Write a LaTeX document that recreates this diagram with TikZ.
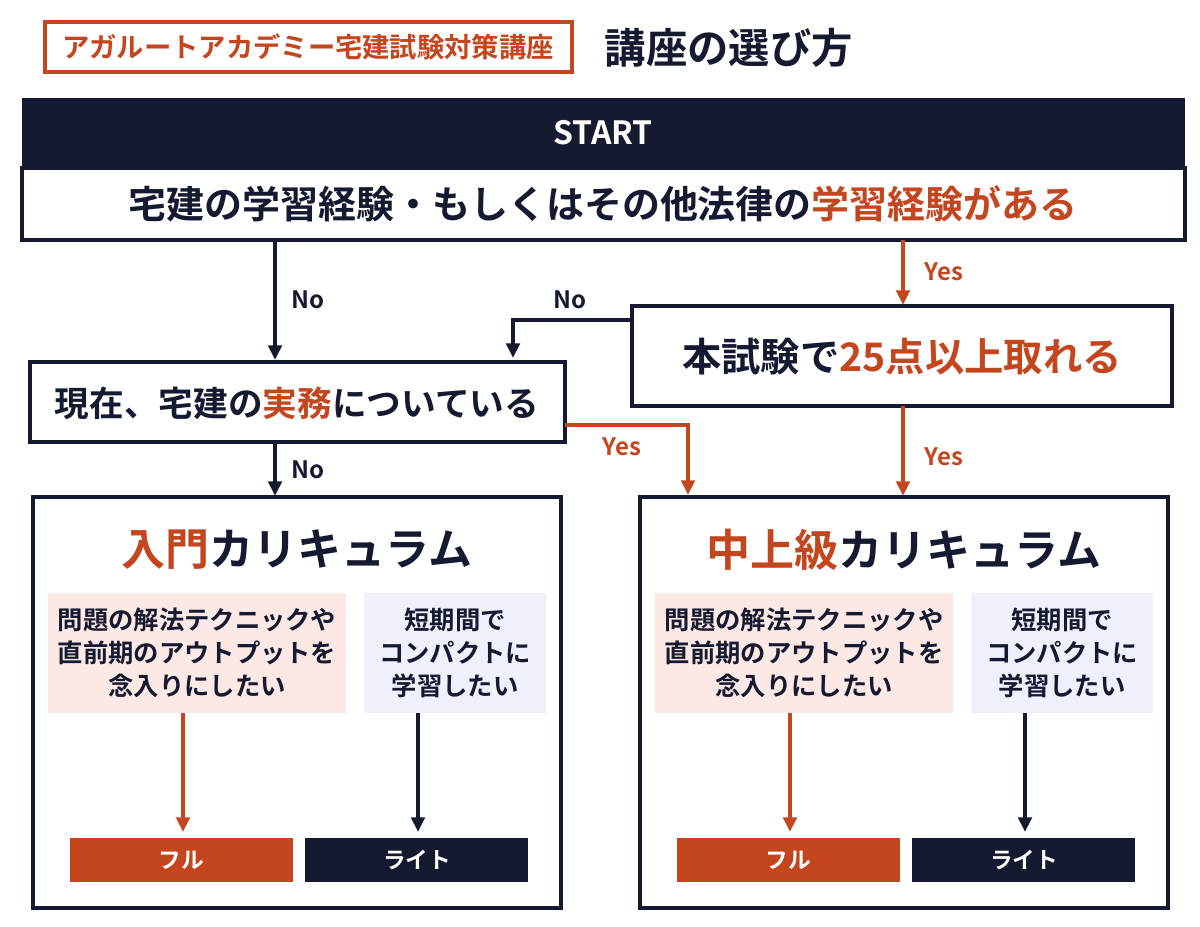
\documentclass[tikz,border=0pt]{standalone}
\usepackage{fontspec}
\setmainfont{Noto Sans CJK JP}[BoldFont={* Bold}]
\usetikzlibrary{arrows.meta}
\definecolor{navy}{HTML}{151A30}
\definecolor{org}{HTML}{C4461F}
\definecolor{pinkbg}{HTML}{FCE9E6}
\definecolor{bluebg}{HTML}{EEF1FC}
\newcommand{\fs}[1]{\fontsize{#1}{#1}\selectfont\bfseries}
\begin{document}
\begin{tikzpicture}[x=0.75pt,y=-0.75pt,
  box/.style={draw=navy,line width=3pt,fill=white},
  arr/.style={line width=3pt,-{Triangle[length=11pt,width=10pt]}},
  lab/.style={font=\fs{18}},
  sub/.style={font=\fs{19},align=center,text=navy},
  btn/.style={font=\fs{17},text=white}]
\useasboundingbox (0,0) rectangle (1200,926);
% title
\node[draw=org,line width=3pt,minimum width=527*0.75pt,minimum height=50*0.75pt,text=org,font=\fs{20.5}] (tag) at (308,47) {アガルートアカデミー宅建試験対策講座};
\node[anchor=west,text=navy,font=\fs{31}] (ttl) at (600,48) {講座の選び方};
% start
\fill[navy] (22,98) rectangle (1185,168);
\node[text=white,font=\fs{24}] (start) at (603,133) {START};
\draw[box] (22,168) rectangle (1185,240);
\node[font=\fs{28.5},text=navy] (q1) at (603,204) {宅建の学習経験・もしくはその他法律の\textcolor{org}{学習経験がある}};
% q2
\draw[box] (632,306) rectangle (1172,406);
\node[font=\fs{29.5},text=navy] (q2) at (902,357) {本試験で\textcolor{org}{25点以上取れる}};
% q3
\draw[box] (30,362) rectangle (565,442);
\node[font=\fs{26},text=navy] (q3) at (297,403) {現在、宅建の\textcolor{org}{実務}についている};
% arrows
\coordinate (a1) at (275,240); \coordinate (a1e) at (275,360);
\draw[arr,navy] (a1) -- (a1e);
\node[lab,text=navy] (n1) at (308,300) {No};
\coordinate (y1) at (903,240); \coordinate (y1e) at (903,305);
\draw[arr,org] (y1) -- (y1e);
\node[lab,text=org] (yl1) at (944,272) {Yes};
\coordinate (n2s) at (632,320); \coordinate (n2e) at (513,358);
\draw[arr,navy] (n2s) -| (n2e);
\node[lab,text=navy] (n2) at (570,300) {No};
\coordinate (n3s) at (275,442); \coordinate (n3e) at (275,496);
\draw[arr,navy] (n3s) -- (n3e);
\node[lab,text=navy] (n3) at (308,470) {No};
\coordinate (y3s) at (565,425); \coordinate (y3e) at (688,495);
\draw[arr,org] (y3s) -| (y3e);
\node[lab,text=org] (yl3) at (622,447) {Yes};
\coordinate (y2s) at (903,406); \coordinate (y2e) at (903,496);
\draw[arr,org] (y2s) -- (y2e);
\node[lab,text=org] (yl2) at (944,457) {Yes};
% panels
\foreach \x/\t/\n in {33/{\textcolor{org}{入門}カリキュラム}/L, 640/{\textcolor{org}{中上級}カリキュラム}/R}{
  \draw[box] (\x,497) rectangle ({\x+528},908);
  \node[font=\fs{33},text=navy] (title\n) at ({\x+264},550) {\t};
  \fill[pinkbg] ({\x+15},593) rectangle ({\x+313},713);
  \node[sub] (pk\n) at ({\x+164},653) {問題の解法テクニックや\\[6pt]直前期のアウトプットを\\[6pt]念入りにしたい};
  \fill[bluebg] ({\x+331},593) rectangle ({\x+513},713);
  \node[sub] (bl\n) at ({\x+422},653) {短期間で\\[6pt]コンパクトに\\[6pt]学習したい};
  \fill[org] ({\x+37},838) rectangle ({\x+260},882);
  \node[btn] (full\n) at ({\x+148},860) {フル};
  \fill[navy] ({\x+272},838) rectangle ({\x+495},882);
  \node[btn] (lite\n) at ({\x+384},860) {ライト};
  \draw[arr,org] ({\x+150},713) -- ({\x+150},832);
  \draw[arr,navy] ({\x+385},713) -- ({\x+385},832);
}
\end{tikzpicture}
\end{document}
